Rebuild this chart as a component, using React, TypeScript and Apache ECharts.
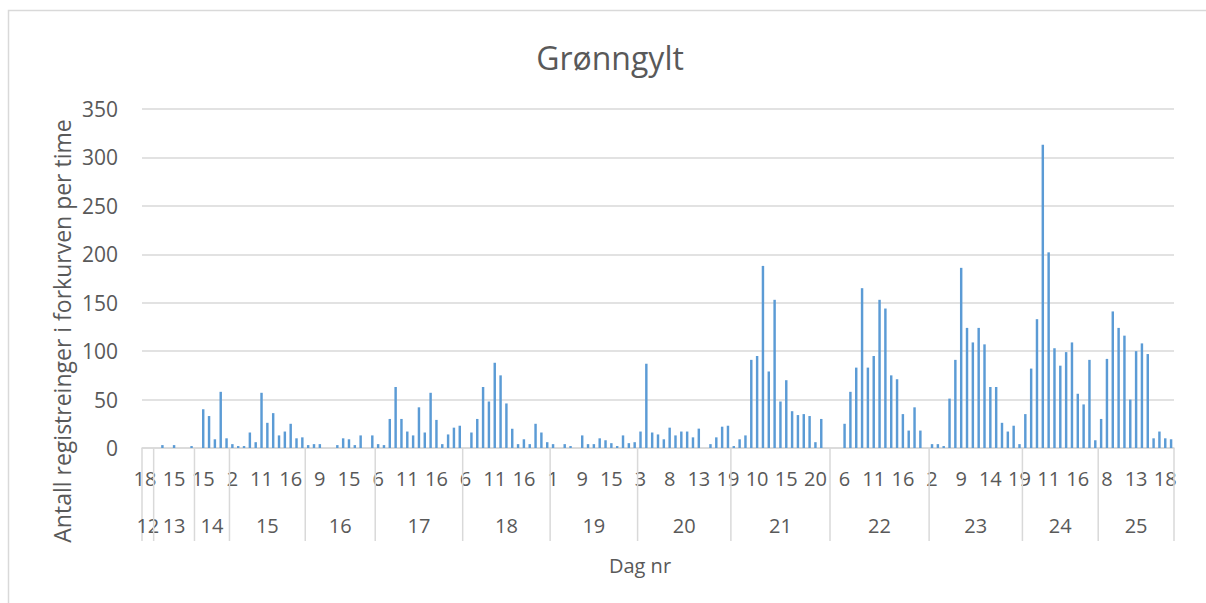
import React, { useEffect, useRef } from "react";
import * as echarts from "echarts";

const chartTitle = "Grønngylt";
const yAxisTitle = "Antall registreinger i forkurven per time";
const xAxisTitle = "Dag nr";

const yMin = 0;
const yMax = 350;
const yInterval = 50;

const days = [12, 13, 14, 15, 16, 17, 18, 19, 20, 21, 22, 23, 24, 25];

const hoursByDay = [
  [18, 19],
  [12, 13, 14, 15, 16, 17, 18],
  [14, 15, 16, 17, 18, 19],
  [2, 7, 8, 9, 10, 11, 12, 13, 14, 15, 16, 17, 18],
  [7, 8, 9, 10, 11, 12, 13, 15, 16, 17, 18, 19],
  [6, 7, 8, 9, 10, 11, 12, 13, 14, 15, 16, 17, 18, 19, 20],
  [6, 7, 8, 9, 10, 11, 12, 13, 14, 15, 16, 17, 18, 19, 20],
  [1, 5, 6, 7, 8, 9, 10, 11, 13, 14, 15, 16, 17, 18, 19],
  [3, 4, 5, 6, 7, 8, 9, 10, 11, 12, 13, 14, 15, 16, 18, 19],
  [6, 7, 8, 9, 10, 11, 12, 13, 14, 15, 16, 17, 18, 19, 20, 21, 22],
  [4, 5, 6, 7, 8, 9, 10, 11, 12, 13, 14, 15, 16, 17, 18, 19, 20],
  [2, 5, 6, 7, 8, 9, 10, 11, 12, 13, 14, 15, 16, 17, 18, 19],
  [7, 8, 9, 10, 11, 12, 13, 14, 15, 16, 17, 18, 19],
  [7, 8, 9, 10, 11, 12, 13, 14, 15, 16, 17, 18, 19],
];

// registrations per hour, in the same order as the hours above
const counts = [
  0, 0,
  0, 3, 0, 3, 0, 0, 2,
  0, 40, 33, 9, 58, 10,
  4, 2, 2, 16, 6, 57, 26, 36, 13, 17, 25, 10, 11,
  3, 4, 4, 0, 0, 3, 10, 9, 3, 13, 0, 13,
  4, 3, 30, 63, 30, 17, 13, 42, 16, 57, 29, 4, 14, 21, 23,
  0, 16, 30, 63, 48, 88, 75, 46, 20, 4, 9, 4, 25, 16, 6,
  4, 0, 4, 2, 0, 13, 4, 4, 10, 8, 5, 2, 13, 5, 6,
  17, 87, 16, 14, 9, 21, 13, 17, 17, 11, 20, 0, 4, 11, 22, 23,
  2, 9, 13, 91, 95, 188, 79, 153, 48, 70, 38, 34, 35, 33, 6, 30, 0,
  0, 0, 25, 58, 83, 165, 83, 95, 153, 144, 75, 71, 35, 18, 42, 18, 0,
  4, 4, 2, 51, 91, 186, 124, 109, 124, 107, 63, 63, 26, 17, 23, 4,
  35, 82, 133, 313, 202, 103, 85, 99, 109, 56, 45, 91, 8,
  30, 92, 141, 124, 116, 50, 100, 108, 97, 10, 17, 10, 9,
];

const FONT = "'Open Sans', 'Noto Sans', sans-serif";
const TEXT_COLOR = "#595959";
const GRID_COLOR = "#d9d9d9";
const BAR_COLOR = "#5B9BD5";

export default function App() {
  const ref = useRef<HTMLDivElement>(null);

  useEffect(() => {
    if (!ref.current) return;
    const chart = echarts.init(ref.current, undefined, { renderer: "svg" });

    const categories: string[] = [];
    const groups: number[][] = [];
    let idx = 0;
    hoursByDay.forEach((hours, d) => {
      const start = idx;
      hours.forEach((h) => {
        categories.push(days[d] + "-" + h);
        idx++;
      });
      groups.push([start, idx - 1, 0]);
    });

    const option: any = {
      animation: false,
      backgroundColor: "#ffffff",
      grid: { left: 142, right: 32, top: 109, bottom: 155, containLabel: false },
      xAxis: {
        type: "category",
        data: categories,
        axisLine: { show: true, lineStyle: { color: GRID_COLOR, width: 1.5 } },
        axisTick: { show: false },
        axisLabel: {
          interval: 4,
          margin: 20,
          color: TEXT_COLOR,
          fontSize: 20,
          fontFamily: FONT,
          formatter: (v: string) => v.split("-")[1],
        },
        splitLine: { show: false },
      },
      yAxis: {
        type: "value",
        min: yMin,
        max: yMax,
        interval: yInterval,
        axisLine: { show: false },
        axisTick: { show: false },
        axisLabel: { color: TEXT_COLOR, fontSize: 21, fontFamily: FONT, margin: 24 },
        splitLine: { lineStyle: { color: GRID_COLOR, width: 1.5 } },
      },
      series: [
        {
          type: "bar",
          data: counts,
          barWidth: "42%",
          itemStyle: { color: BAR_COLOR },
          silent: true,
        },
        {
          type: "custom",
          data: groups,
          encode: { x: [0, 1], y: 2 },
          clip: false,
          silent: true,
          z: 5,
          renderItem: (params: any, api: any) => {
            const s = api.coord([api.value(0), 0]);
            const e = api.coord([api.value(1), 0]);
            const bw = api.coord([1, 0])[0] - api.coord([0, 0])[0];
            const left = s[0] - bw / 2;
            const right = e[0] + bw / 2;
            const y0 = s[1];
            const children: any[] = [
              {
                type: "line",
                shape: { x1: left, y1: y0, x2: left, y2: y0 + 93 },
                style: { stroke: GRID_COLOR, lineWidth: 1.5 },
              },
              {
                type: "text",
                x: (left + right) / 2,
                y: y0 + 77,
                style: {
                  text: String(days[params.dataIndex]),
                  fill: TEXT_COLOR,
                  fontSize: 20,
                  fontFamily: FONT,
                  align: "center",
                  verticalAlign: "middle",
                },
              },
            ];
            if (params.dataIndex === days.length - 1) {
              children.push({
                type: "line",
                shape: { x1: right, y1: y0, x2: right, y2: y0 + 93 },
                style: { stroke: GRID_COLOR, lineWidth: 1.5 },
              });
            }
            return { type: "group", children };
          },
        },
      ],
      graphic: [
        {
          type: "rect",
          shape: { x: 8.5, y: 10.5, width: 1260, height: 660 },
          style: { fill: "none", stroke: GRID_COLOR, lineWidth: 1.5 },
          silent: true,
        },
        {
          type: "text",
          x: 610,
          y: 57,
          style: {
            text: chartTitle,
            fill: TEXT_COLOR,
            fontSize: 32,
            fontFamily: FONT,
            align: "center",
            verticalAlign: "middle",
          },
        },
        {
          type: "text",
          x: 62,
          y: 331,
          rotation: Math.PI / 2,
          style: {
            text: yAxisTitle,
            fill: TEXT_COLOR,
            fontSize: 23,
            fontFamily: FONT,
            align: "center",
            verticalAlign: "middle",
          },
        },
        {
          type: "text",
          x: 640,
          y: 565,
          style: {
            text: xAxisTitle,
            fill: TEXT_COLOR,
            fontSize: 20,
            fontFamily: FONT,
            align: "center",
            verticalAlign: "middle",
          },
        },
      ],
    };

    chart.setOption(option);
    return () => chart.dispose();
  }, []);

  return (
    <div
      ref={ref}
      style={{ position: "fixed", left: 0, top: 0, width: 1206, height: 603 }}
    />
  );
}
